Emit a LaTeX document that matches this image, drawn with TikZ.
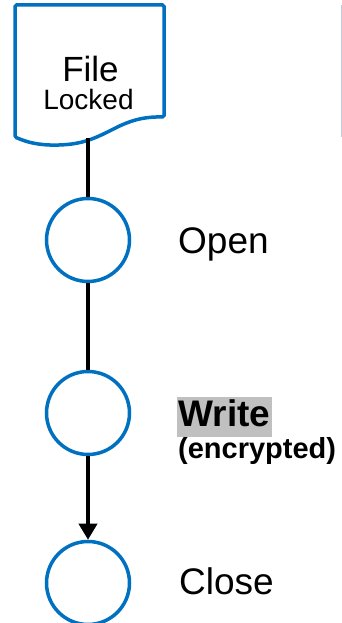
\documentclass[tikz,border=0pt]{standalone}
\usepackage{fontspec}
\setmainfont{Liberation Sans}
\usetikzlibrary{positioning, arrows.meta, calc}
\definecolor{flowblue}{RGB}{0,112,192}
\definecolor{edgegray}{RGB}{190,205,225}
\definecolor{hlgray}{RGB}{192,192,192}
\tikzset{
    docstyle/.style={draw=flowblue, line width=3.5pt, rounded corners=1.5pt, fill=white},
    stepnode/.style={circle, draw=flowblue, line width=3.5pt, minimum size=83pt, inner sep=0pt, fill=white},
    steplbl/.style={anchor=base west, inner sep=0pt, font=\fontsize{37}{42}\selectfont},
    link/.style={line width=3.5pt, draw=black},
    arr/.style={-{Triangle[width=18pt, length=16pt]}, line width=3.5pt, draw=black}
}

\begin{document}
\begin{tikzpicture}[x=1pt, y=1pt,
      hilite/.style={anchor=base west, fill=hlgray, inner xsep=1.5pt,
        inner ysep=0pt, text height=30pt, text depth=10pt,
        font=\fontsize{37}{42}\selectfont\bfseries},
      sublbl/.style={anchor=base west, inner sep=0pt,
        font=\fontsize{29}{33}\selectfont\bfseries}
    ]
    \useasboundingbox (0,0) rectangle (342,623);
    % document shape with wavy bottom
    \draw[docstyle] (15,618) -- (164,618) -- (164,506)
      .. controls (120,507) and (110,485) .. (72,479)
      .. controls (45,476) and (28,480) .. (15,486) -- cycle;
    \coordinate (Dbot) at (88,485);
    \node[font=\fontsize{35}{40}\selectfont, anchor=base, inner sep=0pt] (D) at (90.5,541) {File};
    \node[font=\fontsize{28}{32}\selectfont, anchor=base, inner sep=0pt] (Dsub) at (88.5,513) {Locked};
    % faint edge on the right
    \draw[edgegray, line width=1pt] (341.5,618) -- (341.5,486);
    % steps
    \node[stepnode] (P1) at (88,383) {};
    \node[stepnode] (P2) at (88,210) {};
    \node[stepnode] (P3) at (88,40) {};
    \draw[link] (Dbot) -- (P1.north);
    \draw[link] (P1.south) -- (P2.north);
    \draw[arr] (P2.south) -- (P3.north);
    \node[steplbl] (L1) at (178,369) {Open};
    \node[hilite] (L2) at (177,196) {Write};
    \node[sublbl] (L2b) at (178,164) {(encrypted)};
    \node[steplbl] (L3) at (179,28) {Close};
\end{tikzpicture}
\end{document}
